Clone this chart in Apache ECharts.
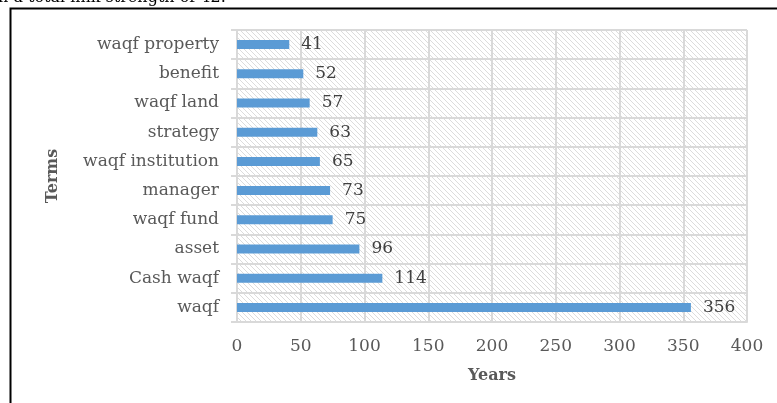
<!DOCTYPE html>
<html><head><meta charset="utf-8">
<script src="https://cdn.jsdelivr.net/npm/echarts@6/dist/echarts.min.js"></script>
<style>html,body{margin:0;padding:0;background:#fff}#c{width:777px;height:403px}</style>
</head><body><div id="c"></div>
<script>
const categories = ['waqf', 'Cash waqf', 'asset', 'waqf fund', 'manager', 'waqf institution', 'strategy', 'waqf land', 'benefit', 'waqf property'];
const values = [356, 114, 96, 75, 73, 65, 63, 57, 52, 41];
const xTicks = [0, 50, 100, 150, 200, 250, 300, 350, 400];
const xTitle = 'Years';
const yTitle = 'Terms';
const captionText = 'h a total link strength of 42.';

const FONT = '"DejaVu Serif", serif';
const tile = document.createElement('canvas');
tile.width = 5; tile.height = 5;
const g = tile.getContext('2d');
g.fillStyle = '#ffffff'; g.fillRect(0, 0, 5, 5);
g.strokeStyle = '#dcdcdc'; g.lineWidth = 1;
g.beginPath();
g.moveTo(-1, -1); g.lineTo(6, 6);
g.moveTo(-1, 4); g.lineTo(1, 6);
g.moveTo(4, -1); g.lineTo(6, 1);
g.stroke();

const chart = echarts.init(document.getElementById('c'), null, {renderer: 'canvas'});
chart.setOption({
  animation: false,
  backgroundColor: '#ffffff',
  grid: {left: 237, right: 30, top: 30, bottom: 81, show: true, borderWidth: 0,
    backgroundColor: {image: tile, repeat: 'repeat'}},
  xAxis: {
    type: 'value', min: xTicks[0], max: xTicks[xTicks.length - 1], interval: 50,
    name: xTitle, nameLocation: 'middle', nameGap: 46,
    nameTextStyle: {fontFamily: FONT, fontWeight: 'bold', fontSize: 16, color: '#595959'},
    axisLine: {show: true, lineStyle: {color: '#d9d9d9', width: 2}},
    axisTick: {show: false},
    splitLine: {show: true, lineStyle: {color: '#d9d9d9', width: 2}},
    axisLabel: {fontFamily: FONT, fontSize: 17, color: '#595959', margin: 16}
  },
  yAxis: {
    type: 'category', data: categories,
    name: yTitle, nameLocation: 'middle', nameGap: 176, nameRotate: 90,
    nameTextStyle: {fontFamily: FONT, fontWeight: 'bold', fontSize: 16, color: '#595959'},
    axisLine: {show: true, lineStyle: {color: '#d9d9d9', width: 2}},
    axisTick: {show: true, length: 6, lineStyle: {color: '#d9d9d9', width: 2}},
    splitLine: {show: true, lineStyle: {color: '#d9d9d9', width: 2}},
    axisLabel: {fontFamily: FONT, fontSize: 17, color: '#595959', margin: 18}
  },
  series: [{
    type: 'bar', data: values, barWidth: 9,
    itemStyle: {color: '#5b9bd5'},
    label: {show: true, position: 'right', distance: 12, fontFamily: FONT, fontSize: 17, color: '#404040'}
  }],
  graphic: [
    {type: 'rect', left: 8, top: 6, shape: {width: 790, height: 420},
      style: {fill: 'none', stroke: '#000', lineWidth: 2}, silent: true},
    {type: 'text', left: -2, top: -10, style: {text: captionText, font: '16px "DejaVu Serif", serif', fill: '#000'}}
  ]
});
</script></body></html>
